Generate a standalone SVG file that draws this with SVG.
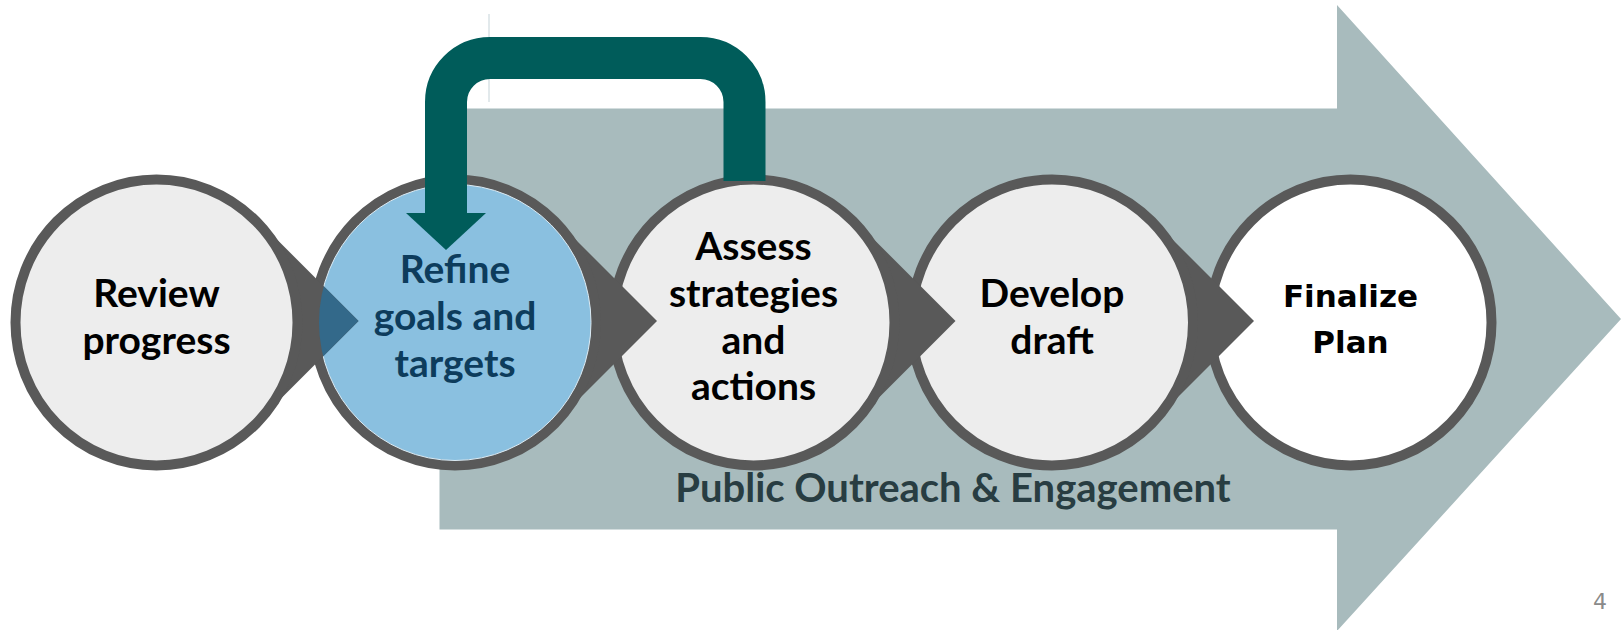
<svg xmlns="http://www.w3.org/2000/svg" width="1623" height="630" viewBox="0 0 1623 630">
  <defs>
    <style>
      .ring { stroke: #595959; stroke-width: 10; }
      .grey { fill: #EDEDED; }
      .ptr { fill: #595959; }
      .lbl { font-family: Lato, "Liberation Sans", sans-serif; font-weight: bold; font-size: 39px; fill: #000000; text-anchor: middle; }
      .blue { fill: #0D3C5C; }
      .lbl2 { font-family: "DejaVu Sans", Verdana, sans-serif; font-weight: bold; font-size: 31px; fill: #000000; text-anchor: middle; }
    </style>
    <clipPath id="blueInner">
      <ellipse cx="455" cy="322.5" rx="136" ry="138"/>
    </clipPath>
  </defs>

  <rect width="1623" height="630" fill="#FFFFFF"/>

  <!-- background arrow -->
  <g id="outreach-arrow">
    <polygon points="439.5,108.5 1337,108.5 1337,5 1621,319 1337,631 1337,529.5 439.5,529.5" fill="#A8BBBD"/>
    <text x="953" y="502" font-family="Lato, 'Liberation Sans', sans-serif" font-weight="bold" font-size="40" fill="#283D42" text-anchor="middle">Public Outreach &amp; Engagement</text>
  </g>

  <line x1="489" y1="14" x2="489" y2="102" stroke="#C5D3D8" stroke-width="1"/>

  <!-- nodes drawn right to left so each pointer lies over the next circle -->
  <g id="node-finalize">
    <ellipse class="ring" cx="1350.5" cy="322.5" rx="141" ry="143" fill="#FFFFFF"/>
    <text class="lbl2" x="1350.5" y="307">Finalize</text>
    <text class="lbl2" x="1350.5" y="353">Plan</text>
  </g>

  <g id="node-develop">
    <polygon class="ptr" points="1254,321 1153,220 1052,321 1153,422"/>
    <ellipse class="ring grey" cx="1052" cy="322.5" rx="141" ry="143"/>
    <text class="lbl" x="1052" y="307">Develop</text>
    <text class="lbl" x="1052" y="354">draft</text>
  </g>

  <g id="node-assess">
    <polygon class="ptr" points="955.5,321 854.5,220 753.5,321 854.5,422"/>
    <ellipse class="ring grey" cx="753.5" cy="322.5" rx="141" ry="143"/>
    <text class="lbl" x="753.5" y="260">Assess</text>
    <text class="lbl" x="753.5" y="307">strategies</text>
    <text class="lbl" x="753.5" y="354">and</text>
    <text class="lbl" x="753.5" y="400">actions</text>
  </g>

  <g id="node-refine">
    <polygon class="ptr" points="657,321 556,220 455,321 556,422"/>
    <ellipse class="ring" cx="455" cy="322.5" rx="141" ry="143" fill="#8AC0E0"/>
    <ellipse cx="455" cy="322.5" rx="136" ry="138" fill="none" stroke="#DCEBF4" stroke-width="1"/>
    <text class="lbl blue" x="455" y="283">Refine</text>
    <text class="lbl blue" x="455" y="330">goals and</text>
    <text class="lbl blue" x="455" y="377">targets</text>
  </g>

  <g id="node-review">
    <polygon class="ptr" points="358.5,321 257.5,220 156.5,321 257.5,422"/>
    <polygon points="358.5,321 257.5,220 156.5,321 257.5,422" fill="#33698A" clip-path="url(#blueInner)"/>
    <ellipse class="ring grey" cx="156.5" cy="322.5" rx="141" ry="143"/>
    <text class="lbl" x="156.5" y="307">Review</text>
    <text class="lbl" x="156.5" y="354">progress</text>
  </g>

  <!-- connector: loop back from Assess to Refine -->
  <g id="connectors">
    <path d="M 744.5 181 V 102 A 44 44 0 0 0 700.5 58 H 490 A 44 44 0 0 0 446 102 V 214" fill="none" stroke="#005C5A" stroke-width="42"/>
    <polygon points="406,213 486,213 446,250" fill="#005C5A"/>
  </g>

  <text x="1600" y="609" font-family="'DejaVu Sans', sans-serif" font-size="22" fill="#8A8A8A" text-anchor="middle">4</text>
</svg>
